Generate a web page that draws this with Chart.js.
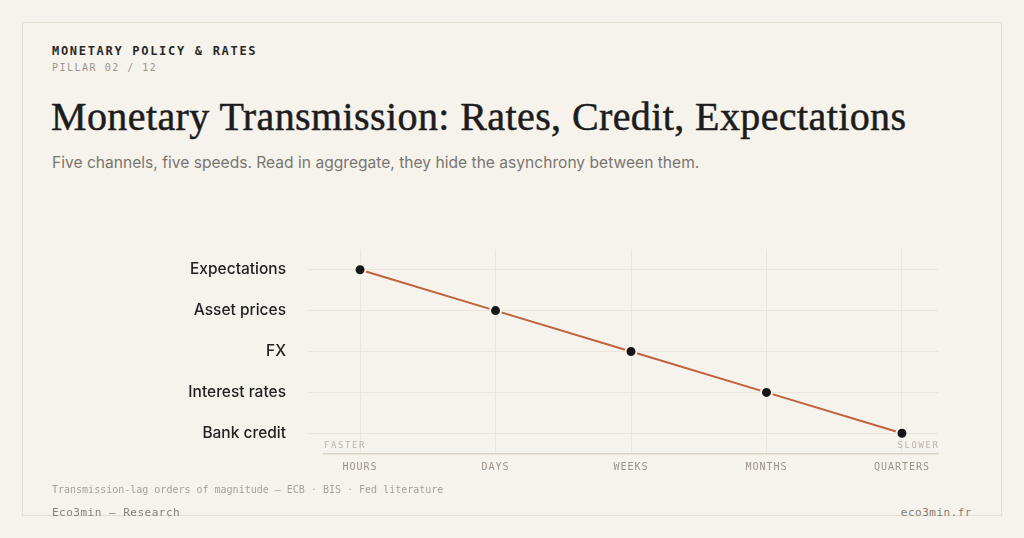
<!DOCTYPE html>
<html>
<head>
<meta charset="utf-8">
<script src="https://cdn.jsdelivr.net/npm/chart.js@4.4.1/dist/chart.umd.min.js"></script>
<style>
  html, body { margin: 0; padding: 0; background: #f6f3ed; }
  body { width: 1024px; height: 538px; position: relative; overflow: hidden; }
  .frame { position: absolute; left: 22px; top: 22px; width: 978px; height: 492px; border: 1px solid #e3ddd0; }
  .abs { position: absolute; white-space: nowrap; }
  .kicker { left: 52px; top: 44px; font: 700 12px/14px "DejaVu Sans Mono", monospace; letter-spacing: 1.7px; color: #2a2a2a; }
  .pillar { left: 52px; top: 62px; font: 400 10px/12px "DejaVu Sans Mono", monospace; letter-spacing: 1.5px; color: #9a958c; }
  .title { left: 51px; top: 93.5px; font: 400 40px/46px "Liberation Serif", serif; letter-spacing: 0.4px; -webkit-text-stroke: 0.5px #1c1c1c; color: #1c1c1c; }
  .sub { left: 52px; top: 152.5px; font: 400 15.6px/20px "Inter", sans-serif; color: #7a766f; }
  .src { left: 52px; top: 484px; font: 400 10px/12px "DejaVu Sans Mono", monospace; color: #a8a195; }
  .foot { top: 506px; font: 400 11px/14px "DejaVu Sans Mono", monospace; letter-spacing: 0.5px; color: #857f75; }
  canvas { position: absolute; left: 170px; top: 218px; }
</style>
</head>
<body>
<div class="frame"></div>
<div class="abs kicker">MONETARY POLICY &amp; RATES</div>
<div class="abs pillar">PILLAR 02 / 12</div>
<div class="abs title">Monetary Transmission: Rates, Credit, Expectations</div>
<div class="abs sub">Five channels, five speeds. Read in aggregate, they hide the asynchrony between them.</div>
<canvas id="c" width="790" height="267"></canvas>
<div class="abs src">Transmission-lag orders of magnitude — ECB · BIS · Fed literature</div>
<div class="abs foot" style="left:52px;">Eco3min — Research</div>
<div class="abs foot" style="right:52px;">eco3min.fr</div>
<script>
const channels = ['Expectations', 'Asset prices', 'FX', 'Interest rates', 'Bank credit'];
const lagIndex = [0, 1, 2, 3, 4];
const speedLabels = ['HOURS', 'DAYS', 'WEEKS', 'MONTHS', 'QUARTERS'];

const BG = '#f6f3ed';
const GRID = '#ebe6dc';

const spacedX = {
  id: 'spacedX',
  beforeDraw(chart) {
    const s = chart.scales.x;
    if (s && !s._spaced) {
      const orig = s.drawLabels.bind(s);
      s.drawLabels = function (area) {
        const ctx = this.ctx;
        ctx.save();
        ctx.letterSpacing = '1px';
        orig(area);
        ctx.restore();
      };
      s._spaced = true;
    }
  },
  afterDraw(chart) {
    const { ctx, chartArea } = chart;
    ctx.save();
    ctx.font = '400 9px "DejaVu Sans Mono", monospace';
    ctx.letterSpacing = '1.6px';
    ctx.fillStyle = '#bcb4a7';
    ctx.textBaseline = 'alphabetic';
    ctx.textAlign = 'left';
    ctx.fillText('FASTER', chartArea.left, chartArea.bottom - 6);
    ctx.textAlign = 'right';
    ctx.fillText('SLOWER', chartArea.right + 1.6, chartArea.bottom - 6);
    ctx.restore();
  }
};

new Chart(document.getElementById('c'), {
  type: 'line',
  data: {
    datasets: [{
      data: channels.map((c, i) => ({ x: lagIndex[i], y: c })),
      borderColor: '#c0613e',
      borderWidth: 2,
      pointRadius: 5.5,
      pointHoverRadius: 5.5,
      pointBackgroundColor: '#161616',
      pointBorderColor: BG,
      pointBorderWidth: 2,
      tension: 0,
      clip: false
    }]
  },
  options: {
    responsive: false,
    animation: false,
    events: [],
    layout: { padding: { top: 13.5, right: 22, bottom: 0, left: 0 } },
    plugins: { legend: { display: false }, tooltip: { enabled: false } },
    scales: {
      x: {
        type: 'linear',
        min: -0.266,
        max: 4.266,
        afterBuildTicks: (s) => { s.ticks = lagIndex.map(v => ({ value: v })); },
        afterFit: (s) => { s.height = 31; },
        ticks: {
          callback: (v) => speedLabels[v] ?? '',
          font: { family: '"DejaVu Sans Mono", monospace', size: 10 },
          color: '#9c9386',
          padding: 8,
          maxRotation: 0,
          autoSkip: false
        },
        grid: { color: GRID, lineWidth: 1, drawTicks: false },
        border: { display: true, color: '#d9d1c2', width: 1.5 }
      },
      y: {
        type: 'category',
        labels: channels,
        offset: true,
        afterFit: (s) => { s.width = 154; },
        ticks: {
          font: { family: 'Inter, sans-serif', size: 15.5, weight: '500' },
          color: '#222222',
          padding: 22
        },
        grid: { color: GRID, lineWidth: 1, offset: false, drawTicks: true, tickLength: 16 },
        border: { display: false }
      }
    }
  },
  plugins: [spacedX]
});
</script>
</body>
</html>
